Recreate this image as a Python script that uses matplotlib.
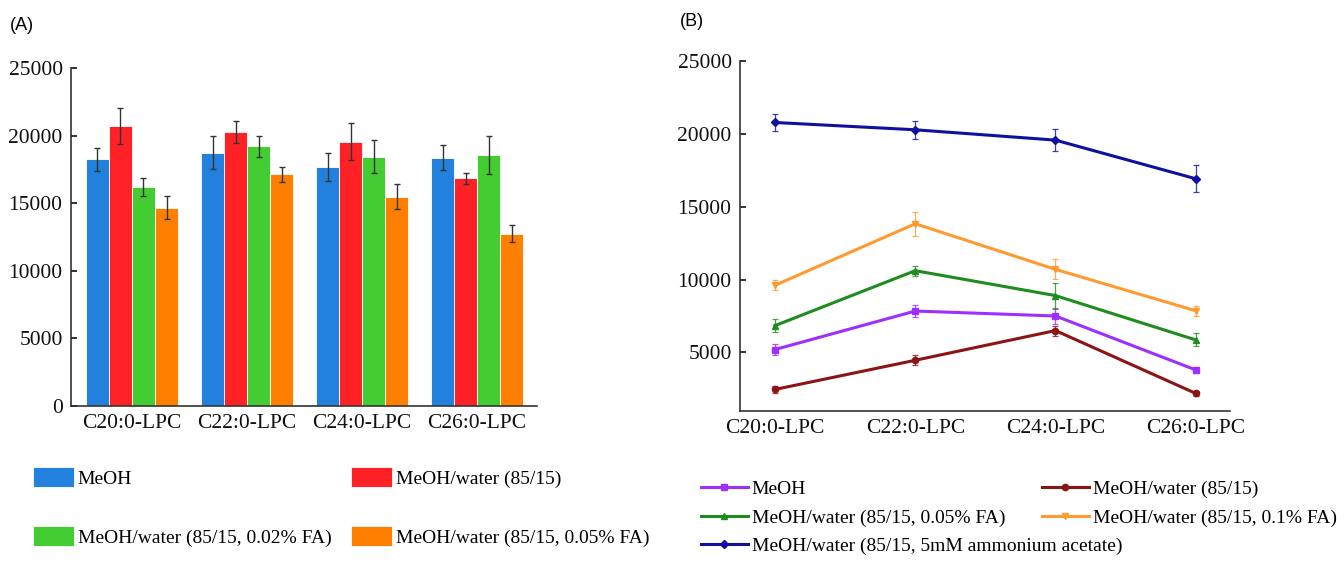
import matplotlib
matplotlib.use("Agg")
import matplotlib.pyplot as plt
import numpy as np

plt.rcParams['font.family'] = ['Liberation Serif', 'DejaVu Serif']

cats = ["C20:0-LPC", "C22:0-LPC", "C24:0-LPC", "C26:0-LPC"]

# (A) bar chart
labels_a = ["MeOH", "MeOH/water (85/15)",
            "MeOH/water (85/15, 0.02% FA)", "MeOH/water (85/15, 0.05% FA)"]
meoh_a = [18250, 18750, 17650, 18380]
meoh_a_err = [850, 1250, 1030, 960]
water_a = [20700, 20250, 19560, 16840]
water_a_err = [1350, 830, 1400, 420]
fa002_a = [16200, 19200, 18430, 18550]
fa002_a_err = [660, 800, 1220, 1420]
fa005_a = [14660, 17130, 15490, 12750]
fa005_a_err = [850, 540, 930, 610]
colors_a = ['#2181dc', '#fe2226', '#43cd33', '#ff8000']

# (B) line chart
labels_b = ["MeOH", "MeOH/water (85/15)", "MeOH/water (85/15, 0.05% FA)",
            "MeOH/water (85/15, 0.1% FA)", "MeOH/water (85/15, 5mM ammonium acetate)"]
meoh_b = [5200, 7840, 7500, 3800]
meoh_b_err = [390, 410, 520, 150]
water_b = [2460, 4460, 6500, 2190]
water_b_err = [220, 340, 340, 160]
fa005_b = [6840, 10610, 8900, 5860]
fa005_b_err = [430, 340, 890, 450]
fa01_b = [9610, 13830, 10700, 7860]
fa01_b_err = [340, 820, 680, 340]
amm_b = [20780, 20280, 19570, 16920]
amm_b_err = [570, 610, 730, 930]
colors_b = ['#9b30ff', '#8b1414', '#1e8c1e', '#ff9a30', '#1010a0']
markers_b = ['s', 'o', '^', 'v', 'D']

W, H = 1344, 562
fig = plt.figure(figsize=(W / 100, H / 100), dpi=100)

def style_axis(ax):
    ax.spines['top'].set_visible(False)
    ax.spines['right'].set_visible(False)
    for s in ['left', 'bottom']:
        ax.spines[s].set_linewidth(1.2)
        ax.spines[s].set_color('#333333')
    ax.tick_params(axis='y', direction='in', length=4, width=1.2, pad=6,
                   labelsize=15.5, colors='#111111')
    ax.tick_params(axis='x', length=0, pad=6, labelsize=15.5, colors='#111111')

# ---- (A)
axA = fig.add_axes([71 / W, 1 - 406 / H, (537 - 71) / W, (406 - 68) / H])
x = np.arange(len(cats))
width = 0.2
series_a = [(meoh_a, meoh_a_err), (water_a, water_a_err),
            (fa002_a, fa002_a_err), (fa005_a, fa005_a_err)]
handles_a = []
for i, (vals, errs) in enumerate(series_a):
    b = axA.bar(x + (i - 1.5) * width, vals, width, color=colors_a[i],
                edgecolor='white', linewidth=0.6, label=labels_a[i],
                yerr=errs, error_kw=dict(ecolor='#333333', elinewidth=1,
                                         capsize=2.2, capthick=1))
    handles_a.append(b)
axA.set_xlim(-0.53, 3.52)
axA.set_ylim(0, 25000)
axA.set_yticks([0, 5000, 10000, 15000, 20000, 25000])
axA.set_xticks(x)
axA.set_xticklabels(cats)
style_axis(axA)

order = [0, 2, 1, 3]
fig.legend([handles_a[i] for i in order], [labels_a[i] for i in order],
           loc='upper left', bbox_to_anchor=(33 / W, 1 - 467 / H), ncol=2,
           frameon=False, fontsize=14, borderpad=0, borderaxespad=0,
           handlelength=2.1, handleheight=1.2, handletextpad=0.2,
           columnspacing=1.0, labelspacing=2.0)

# ---- (B)
axB = fig.add_axes([740 / W, 1 - 410.7 / H, (1230 - 740) / W, (410.7 - 61) / H])
series_b = [(meoh_b, meoh_b_err), (water_b, water_b_err), (fa005_b, fa005_b_err),
            (fa01_b, fa01_b_err), (amm_b, amm_b_err)]
handles_b = []
for i, (vals, errs) in enumerate(series_b):
    axB.errorbar(x, vals, yerr=errs, fmt='none', ecolor=colors_b[i],
                 elinewidth=0.9, capsize=2.2, capthick=0.9, alpha=0.8)
    ln, = axB.plot(x, vals, color=colors_b[i], linewidth=2.2,
                   marker=markers_b[i], markersize=4.5, label=labels_b[i])
    handles_b.append(ln)
axB.set_xlim(-0.25, 3.245)
axB.set_ylim(1000, 25000)
axB.set_yticks([5000, 10000, 15000, 20000, 25000])
axB.set_xticks(x)
axB.set_xticklabels(cats)
style_axis(axB)

order = [0, 2, 1, 3]
fig.legend([handles_b[i] for i in order], [labels_b[i] for i in order],
           loc='upper left', bbox_to_anchor=(701 / W, 1 - 480 / H), ncol=2,
           frameon=False, fontsize=14, borderpad=0, borderaxespad=0,
           handlelength=2.4, handletextpad=0.2, columnspacing=1.9,
           labelspacing=0.6)
fig.legend([handles_b[4]], [labels_b[4]],
           loc='upper left', bbox_to_anchor=(701 / W, 1 - 537 / H),
           frameon=False, fontsize=14, borderpad=0, borderaxespad=0,
           handlelength=2.4, handletextpad=0.2)

fig.text(10 / W, 1 - 25 / H, "(A)", family='Liberation Sans', fontsize=13, va='center')
fig.text(680 / W, 1 - 22 / H, "(B)", family='Liberation Sans', fontsize=13, va='center')

fig.savefig("out.png", dpi=100)
